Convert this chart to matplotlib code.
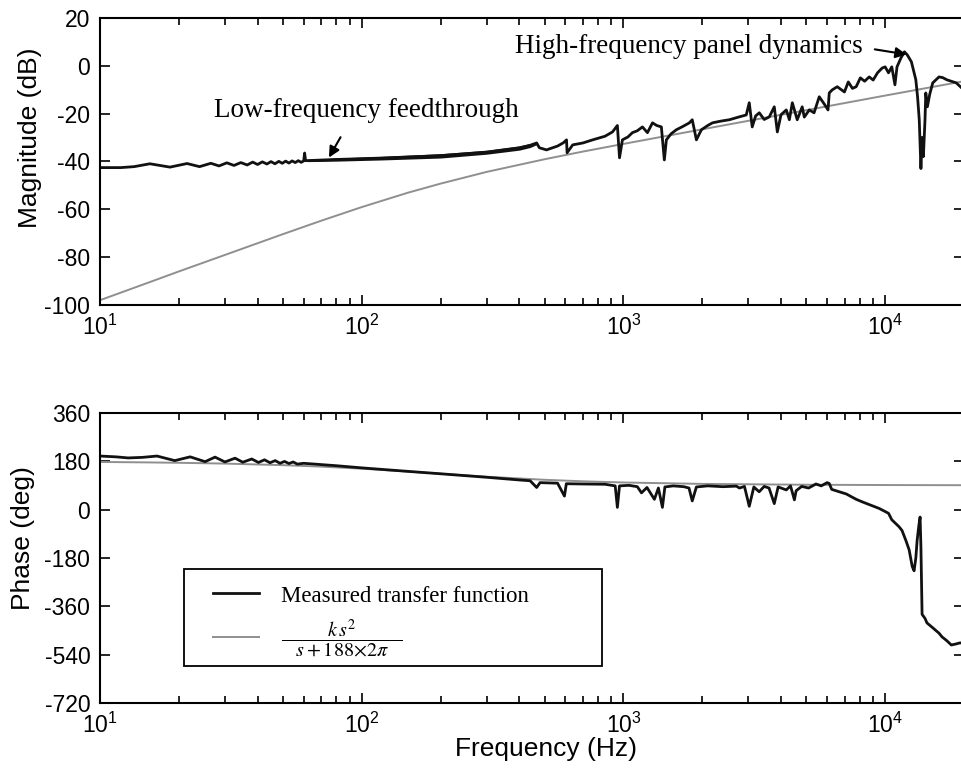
import matplotlib
matplotlib.use("Agg")
import matplotlib.pyplot as plt
from matplotlib.patches import Rectangle

plt.rcParams['font.family'] = ['Liberation Sans', 'DejaVu Sans']
plt.rcParams['mathtext.fontset'] = 'stix'
plt.rcParams['axes.unicode_minus'] = False

# measured magnitude (Hz, dB)
f_mag = [10, 12, 13.5, 15.5, 18.5, 21.5, 24, 26.5, 28.5, 30.5, 32.5, 34.5, 36.5, 38.3,
         40, 41.7, 43.4, 45, 46.6, 48.2, 49.7, 51.2, 52.7, 54.2, 55.7, 57.2, 58.7, 60,
         60.5, 61, 80, 120, 200, 300, 400, 440, 466, 477, 508, 536, 560, 590, 606, 609,
         640, 700, 763, 850, 908, 948, 966, 991, 1040, 1082, 1130, 1182, 1235, 1291,
         1340, 1396, 1433, 1459, 1520, 1592, 1680, 1786, 1832, 1900, 1985, 2100, 2188,
         2350, 2540, 2750, 2946, 3025, 3105, 3200, 3304, 3450, 3608, 3770, 3873, 4000,
         4190, 4305, 4419, 4614, 4820, 4909, 5130, 5350, 5600, 5850, 6050, 6115, 6280,
         6560, 6990, 7230, 7500, 7750, 8040, 8350, 8690, 9000, 9350, 9740, 10000, 10300,
         10600, 10900, 11100, 11500, 11850, 12150, 12600, 13100, 13300, 13500, 13700,
         13850, 14000, 14200, 14300, 14500, 14800, 15200, 16060, 16600, 17200, 17900,
         18700, 19600, 20000]
mag_meas = [-42.6, -42.6, -42.2, -41.0, -42.4, -40.9, -42.2, -40.8, -41.9, -40.6, -41.7,
            -40.5, -41.5, -40.3, -41.3, -40.2, -41.1, -40.1, -41.0, -40.0, -40.8, -39.9,
            -40.7, -39.8, -40.5, -39.7, -40.4, -39.8, -36.5, -39.7, -39.2, -38.6, -37.6,
            -36.2, -34.4, -33.3, -32.3, -34.3, -35.2, -34.3, -33.6, -32.2, -31.0, -36.4,
            -33.1, -32.3, -31.0, -29.5, -27.7, -25.0, -38.5, -31.0, -29.8, -28.0, -27.2,
            -25.6, -28.0, -23.9, -25.0, -25.6, -39.4, -31.0, -28.5, -26.8, -25.5, -23.9,
            -22.6, -31.0, -26.8, -25.0, -23.9, -23.2, -22.6, -21.5, -20.6, -15.5, -25.6,
            -21.0, -19.7, -22.5, -21.4, -17.2, -27.7, -20.5, -18.5, -22.6, -15.5, -22.6,
            -17.2, -21.5, -18.5, -19.7, -13.0, -16.0, -18.5, -11.4, -10.1, -8.8, -11.0,
            -6.8, -9.5, -8.8, -5.1, -6.5, -4.7, -6.0, -3.0, -1.0, -0.5, -3.0, -0.5, -8.0,
            -0.5, 3.3, 5.8, 4.5, 1.6, -5.9, -13.0, -22.6, -43.0, -30.0, -38.0, -22.6, -11.4,
            -17.2, -12.0, -7.2, -4.7, -5.0, -5.9, -6.5, -7.2, -9.3, -8.5]

# thick ripple band of the measured magnitude between 60 and 470 Hz
f_band = [62, 80, 120, 200, 300, 400, 440, 466]
band_lo = [-40.1, -39.9, -39.4, -38.6, -37.0, -35.3, -34.2, -33.0]
band_hi = [-39.2, -38.6, -37.9, -36.8, -35.3, -33.5, -32.5, -31.8]

# model k s^2 / (s + 188*2*pi)
f_model = [10, 15, 20, 30, 50, 70, 100, 150, 200, 300, 500, 700, 1000, 2000, 5000, 10000, 20000]
mag_model = [-98.0, -91.0, -86.0, -79.1, -70.4, -64.8, -59.1, -53.1, -49.3, -44.4, -39.1,
             -35.9, -32.7, -26.6, -18.6, -12.5, -6.5]
ph_model = [177.0, 175.4, 173.9, 170.9, 165.1, 159.6, 152.0, 141.4, 133.2, 122.1, 110.6,
            105.0, 100.6, 95.4, 92.2, 91.1, 90.5]

# measured phase (Hz, deg)
f_ph = [10, 11.5, 12.8, 14.5, 16.5, 19.3, 22.1, 25.2, 27.5, 30, 32.8, 35.1, 38, 40.3, 42.5,
        44.6, 46.7, 48.7, 50.7, 52.7, 54.7, 56.7, 60, 80, 100, 150, 200, 300, 400, 440, 466,
        480, 560, 595, 605, 700, 850, 930, 948, 966, 1050, 1130, 1172, 1230, 1313, 1360,
        1409, 1440, 1550, 1700, 1780, 1832, 1900, 2100, 2400, 2700, 2775, 2900, 3025, 3150,
        3300, 3450, 3600, 3770, 3900, 4190, 4350, 4500, 4570, 4800, 5100, 5440, 5700, 6000,
        6115, 6250, 6680, 7100, 7750, 8200, 8930, 9490, 10300, 10600, 11300, 11600, 12000,
        12350, 12690, 12900, 13100, 13250, 13450, 13600, 13700, 13840, 14200, 14450, 15200,
        16060, 16500, 17200, 17900, 18700, 19150, 19600, 20000]
ph_meas = [199, 196, 192, 194, 199, 182, 196, 178, 195, 177, 191, 176, 188, 175, 185, 174,
           182, 172, 179, 171, 177, 169, 172, 163, 155, 142, 133, 120, 110, 107, 82, 100, 98,
           50, 96, 95, 94, 88, 8, 88, 90, 85, 62, 82, 38, 80, 8, 84, 88, 85, 80, 32, 84, 88,
           85, 87, 80, 86, 12, 84, 66, 86, 80, 22, 84, 73, 88, 36, 70, 86, 80, 95, 88, 100,
           97, 75, 66, 58, 38, 28, 14, 4, -14, -38, -64, -78, -115, -150, -212, -228, -180,
           -115, -60, -28, -140, -390, -405, -422, -440, -460, -474, -488, -504, -500, -497,
           -496, -497]

mag_ticks = list(range(-100, 21, 20))
ph_ticks = list(range(-720, 361, 180))

fig = plt.figure(figsize=(9.62, 7.74), dpi=100)
ax1 = fig.add_axes([0.104, 0.606, 0.898, 0.371])
ax2 = fig.add_axes([0.104, 0.0917, 0.898, 0.375])

meas_kw = dict(color='#111111', lw=2.0)
model_kw = dict(color='#8f8f8f', lw=1.4)

ax1.plot(f_model, mag_model, **model_kw)
ax1.plot(f_mag, mag_meas, **meas_kw)
ax1.fill_between(f_band, band_lo, band_hi, color='#111111', lw=0)

ax2.plot(f_model, ph_model, label=r'$\dfrac{k\,s^{2}}{\quad s+188{\times}2\pi\quad}$', **model_kw)
ax2.plot(f_ph, ph_meas, label='Measured transfer function', **meas_kw)

for ax in (ax1, ax2):
    ax.set_xscale('log')
    ax.set_xlim(10, 2e4)
    ax.set_xticks([10, 100, 1000, 10000])
    ax.tick_params(which='both', direction='in', top=True, right=True,
                   labelsize=16.5, width=1.2, pad=7)
    ax.tick_params(which='major', length=7)
    ax.tick_params(which='minor', length=5)
    for s in ax.spines.values():
        s.set_linewidth(1.5)

ax1.set_ylim(-100, 20)
ax1.set_yticks(mag_ticks)
ax2.set_ylim(-720, 360)
ax2.set_yticks(ph_ticks)

ax1.set_ylabel('Magnitude (dB)', fontsize=19)
ax1.yaxis.set_label_coords(-0.067, 0.582)
ax2.set_ylabel('Phase (deg)', fontsize=19)
ax2.yaxis.set_label_coords(-0.075, 0.569)
ax2.set_xlabel('Frequency (Hz)', fontsize=19)
ax2.xaxis.set_label_coords(0.516, -0.118)

serif = dict(family=['Liberation Serif', 'DejaVu Serif'], fontsize=19.5)
ax1.text(104.5, -21.4, 'Low-frequency feedthrough', ha='center', va='baseline', **serif)
ax1.annotate('', xy=(74, -39.4), xytext=(84, -28.9),
             arrowprops=dict(arrowstyle='-|>', color='k', lw=1.5, mutation_scale=16))
ax1.text(1786, 5.4, 'High-frequency panel dynamics', ha='center', va='baseline', **serif)
ax1.annotate('', xy=(12360, 4.5), xytext=(8913, 7.0),
             arrowprops=dict(arrowstyle='-|>', color='k', lw=1.5, mutation_scale=16))

# legend box drawn separately so its size matches the original
ax2.add_patch(Rectangle((0.097, 0.128), 0.484, 0.334, transform=ax2.transAxes,
                        fill=False, ec='black', lw=1.3, zorder=5))
h, l = ax2.get_legend_handles_labels()
leg = ax2.legend(h[::-1], l[::-1], loc='upper left', bbox_to_anchor=(0.131, 0.405),
                 borderaxespad=0, borderpad=0, frameon=False,
                 prop={'family': 'Liberation Serif', 'size': 16.5},
                 handlelength=2.0, handletextpad=0.95, labelspacing=0.5)
leg.get_texts()[1].set_fontsize(14.5)

fig.savefig('out.png', dpi=100)
